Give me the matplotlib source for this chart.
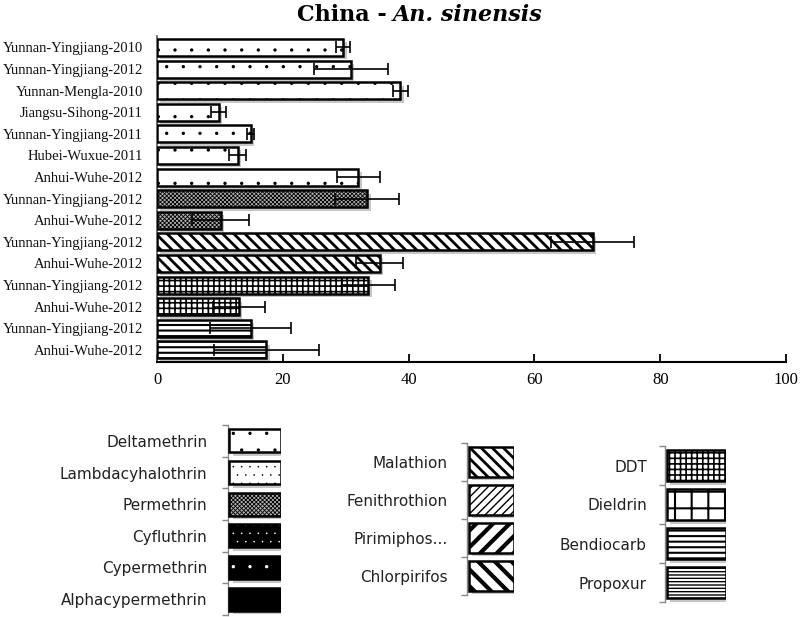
import matplotlib.pyplot as plt
from matplotlib.transforms import ScaledTranslation

# main chart data
sites = ['Yunnan-Yingjiang-2010', 'Yunnan-Yingjiang-2012', 'Yunnan-Mengla-2010',
         'Jiangsu-Sihong-2011', 'Yunnan-Yingjiang-2011', 'Hubei-Wuxue-2011',
         'Anhui-Wuhe-2012', 'Yunnan-Yingjiang-2012', 'Anhui-Wuhe-2012',
         'Yunnan-Yingjiang-2012', 'Anhui-Wuhe-2012', 'Yunnan-Yingjiang-2012',
         'Anhui-Wuhe-2012', 'Yunnan-Yingjiang-2012', 'Anhui-Wuhe-2012']
mortality = [29.6, 30.8, 38.7, 9.8, 14.9, 12.8, 32.0, 33.4, 10.1,
             69.3, 35.4, 33.6, 13.0, 14.9, 17.4]
errors = [1.1, 5.9, 1.2, 1.2, 0.6, 1.4, 3.4, 5.1, 4.5,
          6.6, 3.7, 4.2, 4.1, 6.4, 8.3]
insecticide = (['Deltamethrin'] * 7 + ['Permethrin'] * 2 + ['Malathion'] * 2
               + ['DDT'] * 2 + ['Bendiocarb'] * 2)

# legend groups
pyrethroids = ['Deltamethrin', 'Lambdacyhalothrin', 'Permethrin',
               'Cyfluthrin', 'Cypermethrin', 'Alphacypermethrin']
organophosphates = ['Malathion', 'Fenithrothion', 'Pirimiphos...', 'Chlorpirifos']
others = ['DDT', 'Dieldrin', 'Bendiocarb', 'Propoxur']

# fill pattern per insecticide: face, hatch colour, hatch, hatch linewidth
styles = {
    'Deltamethrin': ('white', 'black', '.', 0.0),
    'Lambdacyhalothrin': ('white', 'black', '..', 0.0),
    'Permethrin': ('#b0b0b0', 'black', 'xxxxxxxx', 0.6),
    'Cyfluthrin': ('black', 'white', '..', 0.0),
    'Cypermethrin': ('black', 'white', '.', 0.0),
    'Alphacypermethrin': ('black', 'black', '', 1.0),
    'Malathion': ('white', 'black', '\\\\\\', 2.0),
    'Fenithrothion': ('white', 'black', '////', 1.0),
    'Pirimiphos...': ('white', 'black', '//', 3.0),
    'Chlorpirifos': ('white', 'black', '\\\\', 3.0),
    'DDT': ('white', 'black', '+++', 1.2),
    'Dieldrin': ('white', 'black', '+', 1.5),
    'Bendiocarb': ('white', 'black', '---', 1.5),
    'Propoxur': ('white', 'black', '-----', 1.0),
}

fig = plt.figure(figsize=(8, 6.17), dpi=100)
shift = ScaledTranslation(2.5 / 72, -2.5 / 72, fig.dpi_scale_trans)


def draw_bars(ax, y, widths, names, height, left=0):
    shadow = ax.barh(y, widths, height, left=left, color='#9a9a9a',
                     alpha=0.55, lw=0, zorder=1)
    for p in shadow:
        p.set_transform(ax.transData + shift)
    for yi, w, name in zip(y, widths, names):
        face, hcol, hatch, hlw = styles[name]
        with plt.rc_context({'hatch.linewidth': hlw}):
            b = ax.barh(yi, w, height, left=left, color=face, edgecolor=hcol,
                        hatch=hatch, lw=0, zorder=2)
        for p in b:
            if hasattr(p, 'set_hatch_linewidth'):
                p.set_hatch_linewidth(hlw)
    ax.barh(y, widths, height, left=left, fill=False, edgecolor='black',
            lw=1.8, zorder=3)


# ---- main chart ----
ax = fig.add_axes([157 / 800, 1 - 362 / 617, 629 / 800, 326 / 617])
ypos = list(range(len(sites)))
draw_bars(ax, ypos, mortality, insecticide, 0.79)
ax.errorbar(mortality, ypos, xerr=errors, fmt='none', ecolor='black',
            elinewidth=1.2, capsize=4, capthick=1.2, zorder=5)
ax.set_xlim(0, 100)
ax.set_ylim(len(sites) - 0.44, -0.53)
ax.set_xticks([0, 20, 40, 60, 80, 100])
ax.set_yticks(ypos)
ax.set_yticklabels(sites, fontfamily='Liberation Serif', fontsize=10.5, color='#111111')
for lab in ax.get_xticklabels():
    lab.set_fontfamily('Liberation Serif')
    lab.set_fontsize(12)
ax.tick_params(axis='x', direction='in', length=6, width=1.3, pad=7)
ax.tick_params(axis='y', length=0, pad=10)
ax.spines['top'].set_visible(False)
ax.spines['right'].set_visible(False)
ax.spines['bottom'].set_linewidth(1.5)
ax.spines['left'].set_color('#555555')
ax.spines['left'].set_linewidth(1.2)

fig.text(387 / 800, 1 - 21 / 617, 'China -', ha='right', va='baseline',
         fontfamily='DejaVu Serif', fontweight='bold', fontsize=16)
fig.text(393 / 800, 1 - 21 / 617, 'An. sinensis', ha='left', va='baseline',
         fontfamily='DejaVu Serif', fontweight='bold', fontstyle='italic', fontsize=16)


# ---- legend panels ----
def legend_panel(rect, names, height, x0, pad):
    lax = fig.add_axes(rect)
    n = len(names)
    yy = list(range(n))
    draw_bars(lax, yy, [1 - x0] * n, names, height, left=x0)
    lax.set_xlim(0, 1)
    lax.set_ylim(n - 0.5, -0.5)
    lax.set_yticks(yy)
    lax.set_yticklabels(names, fontfamily='DejaVu Sans', fontsize=11, color='#222222')
    lax.set_yticks([i - 0.5 for i in range(n + 1)], minor=True)
    lax.tick_params(axis='y', which='major', length=0, pad=pad)
    lax.tick_params(axis='y', which='minor', length=4, width=1, color='#888888')
    lax.set_xticks([])
    for s in ['top', 'right', 'bottom']:
        lax.spines[s].set_visible(False)
    lax.spines['left'].set_color('#888888')
    lax.spines['left'].set_linewidth(1)
    lax.patch.set_visible(False)


legend_panel([228 / 800, 1 - 615 / 617, 53 / 800, 190 / 617], pyrethroids, 0.73, 0.02, 15)
legend_panel([467 / 800, 1 - 595 / 617, 47 / 800, 152 / 617], organophosphates, 0.79, 0.04, 14)
legend_panel([665 / 800, 1 - 602 / 617, 61 / 800, 156 / 617], others, 0.8, 0.03, 13)

fig.savefig('out.png', dpi=100)
